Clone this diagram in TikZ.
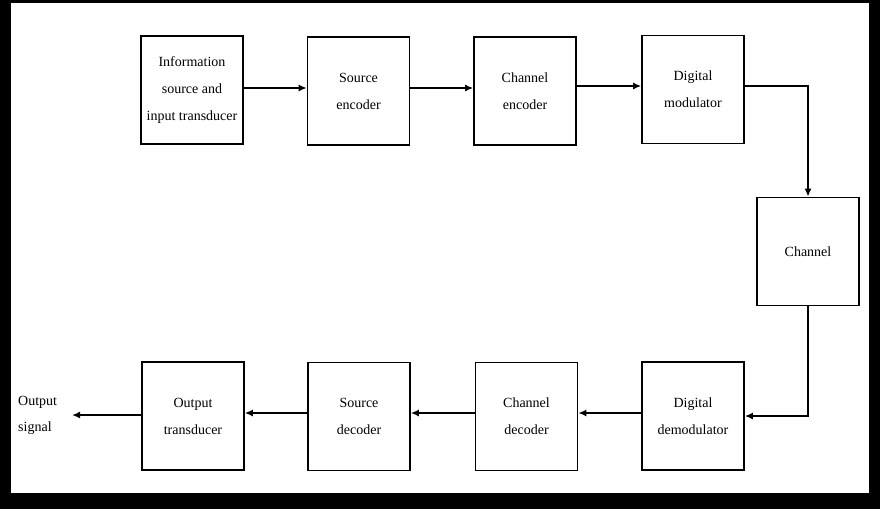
\documentclass[tikz,border=0pt]{standalone}
\usepackage{fontspec}
\setmainfont{Liberation Serif}
\usetikzlibrary{arrows.meta}
\begin{document}
\begin{tikzpicture}[x=1pt,y=-1pt,
  blk/.style={draw=black,line width=1.6pt,minimum width=102pt,minimum height=108pt,inner sep=0pt,align=center,
    font=\fontsize{14}{27}\selectfont},
  conn/.style={line width=1.6pt,-{Latex[length=8pt,width=7pt]}},
  lbl/.style={align=left,font=\fontsize{14}{26}\selectfont,inner sep=0pt}]
\useasboundingbox (0,0) rectangle (880,509);
\fill[black] (0,0) rectangle (880,509);
\fill[white] (11,3) rectangle (869,493);
\node[blk] (src) at (192,90) {Information\\source and\\input transducer};
\node[blk] (senc) at (358.5,91) {Source\\encoder};
\node[blk] (cenc) at (525,91) {Channel\\encoder};
\node[blk] (mod) at (693,89.5) {Digital\\modulator};
\node[blk] (chan) at (808,251.5) {Channel};
\node[blk] (demod) at (693,416) {Digital\\demodulator};
\node[blk] (cdec) at (526.5,416.5) {Channel\\decoder};
\node[blk] (sdec) at (359,416.5) {Source\\decoder};
\node[blk] (odec) at (193,416) {Output\\transducer};
\node[lbl,anchor=west] (out) at (18,415) {Output\\signal};
\coordinate (tip) at (72,415);
\draw[conn] (src.east |- 0,88) -- (senc.west |- 0,88);
\draw[conn] (senc.east |- 0,88) -- (cenc.west |- 0,88);
\draw[conn] (cenc.east |- 0,86) -- (mod.west |- 0,86);
\draw[conn] (mod.east |- 0,86) -| (chan.north);
\draw[conn] (chan.south) |- (demod.east |- 0,416);
\draw[conn] (demod.west |- 0,413) -- (cdec.east |- 0,413);
\draw[conn] (cdec.west |- 0,413) -- (sdec.east |- 0,413);
\draw[conn] (sdec.west |- 0,413) -- (odec.east |- 0,413);
\draw[conn] (odec.west |- 0,415) -- (tip);
\end{tikzpicture}
\end{document}
